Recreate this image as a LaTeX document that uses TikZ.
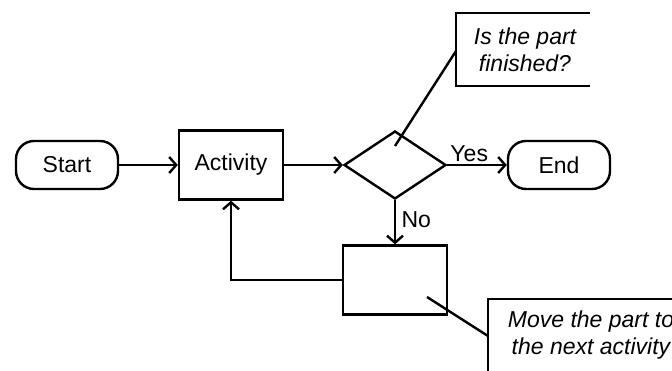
\documentclass[tikz,border=0pt]{standalone}
\usepackage{fontspec}
\setmainfont{Liberation Sans}
\usetikzlibrary{shapes.geometric, arrows.meta}
\usetikzlibrary{positioning}
\tikzstyle{terminal} = [rectangle, rounded corners=18pt, minimum width=102pt, minimum height=48pt, draw=black, line width=2.4pt]
\tikzstyle{process} = [rectangle, minimum width=104pt, minimum height=69pt, draw=black, line width=2.4pt]
\tikzstyle{decision} = [diamond, minimum width=102pt, minimum height=68pt, inner sep=0pt, draw=black, line width=2.4pt]
\tikzstyle{arrow} = [line width=2.4pt, -{Straight Barb[length=7pt, width=16pt]}]
\tikzstyle{note} = [line width=2.4pt]
\tikzstyle{notetext} = [align=center, font=\fontsize{23}{27}\selectfont\itshape]

\begin{document}
\begin{tikzpicture}[x=1pt, y=-1pt, node distance=164pt, every node/.style={font=\fontsize{23}{27}\selectfont}]
        \clip (0,0) rectangle (672,371);

        \node(start) [terminal] at (67,165) {Start};
        \node(activity) [process, right of=start] {Activity};
        \node(decision) [decision, right of=activity] {};
        \node(end) [terminal, right of=decision] {End};
        \node(move) [process, below of=decision, yshift=49pt] {};

        \draw[arrow] (start) -- (activity);
        \draw[arrow] (activity) -- (decision);
        \draw[arrow] (decision) -- node[above, pos=0.37, inner sep=2pt]{Yes} (end);
        \draw[arrow] (decision) -- node[right, pos=0.45, xshift=2pt]{No} (move);
        \draw[arrow] (move.west) -| (activity.south);

        % callouts
        \draw[note] (590,13) -- (456,13) -- (456,86) -- (590,86);
        \node(ask) [notetext] at (525,50) {Is the part\\finished?};
        \coordinate(tip1) at (395,146);
        \coordinate(edge1) at (456,51);
        \draw[note] (tip1) -- (edge1);

        \draw[note] (672,299) -- (488,299) -- (488,371);
        \node(tell) [notetext] at (591,335) {Move the part to\\the next activity};
        \coordinate(tip2) at (427,297);
        \coordinate(edge2) at (488,336);
        \draw[note] (tip2) -- (edge2);
\end{tikzpicture}
\end{document}
